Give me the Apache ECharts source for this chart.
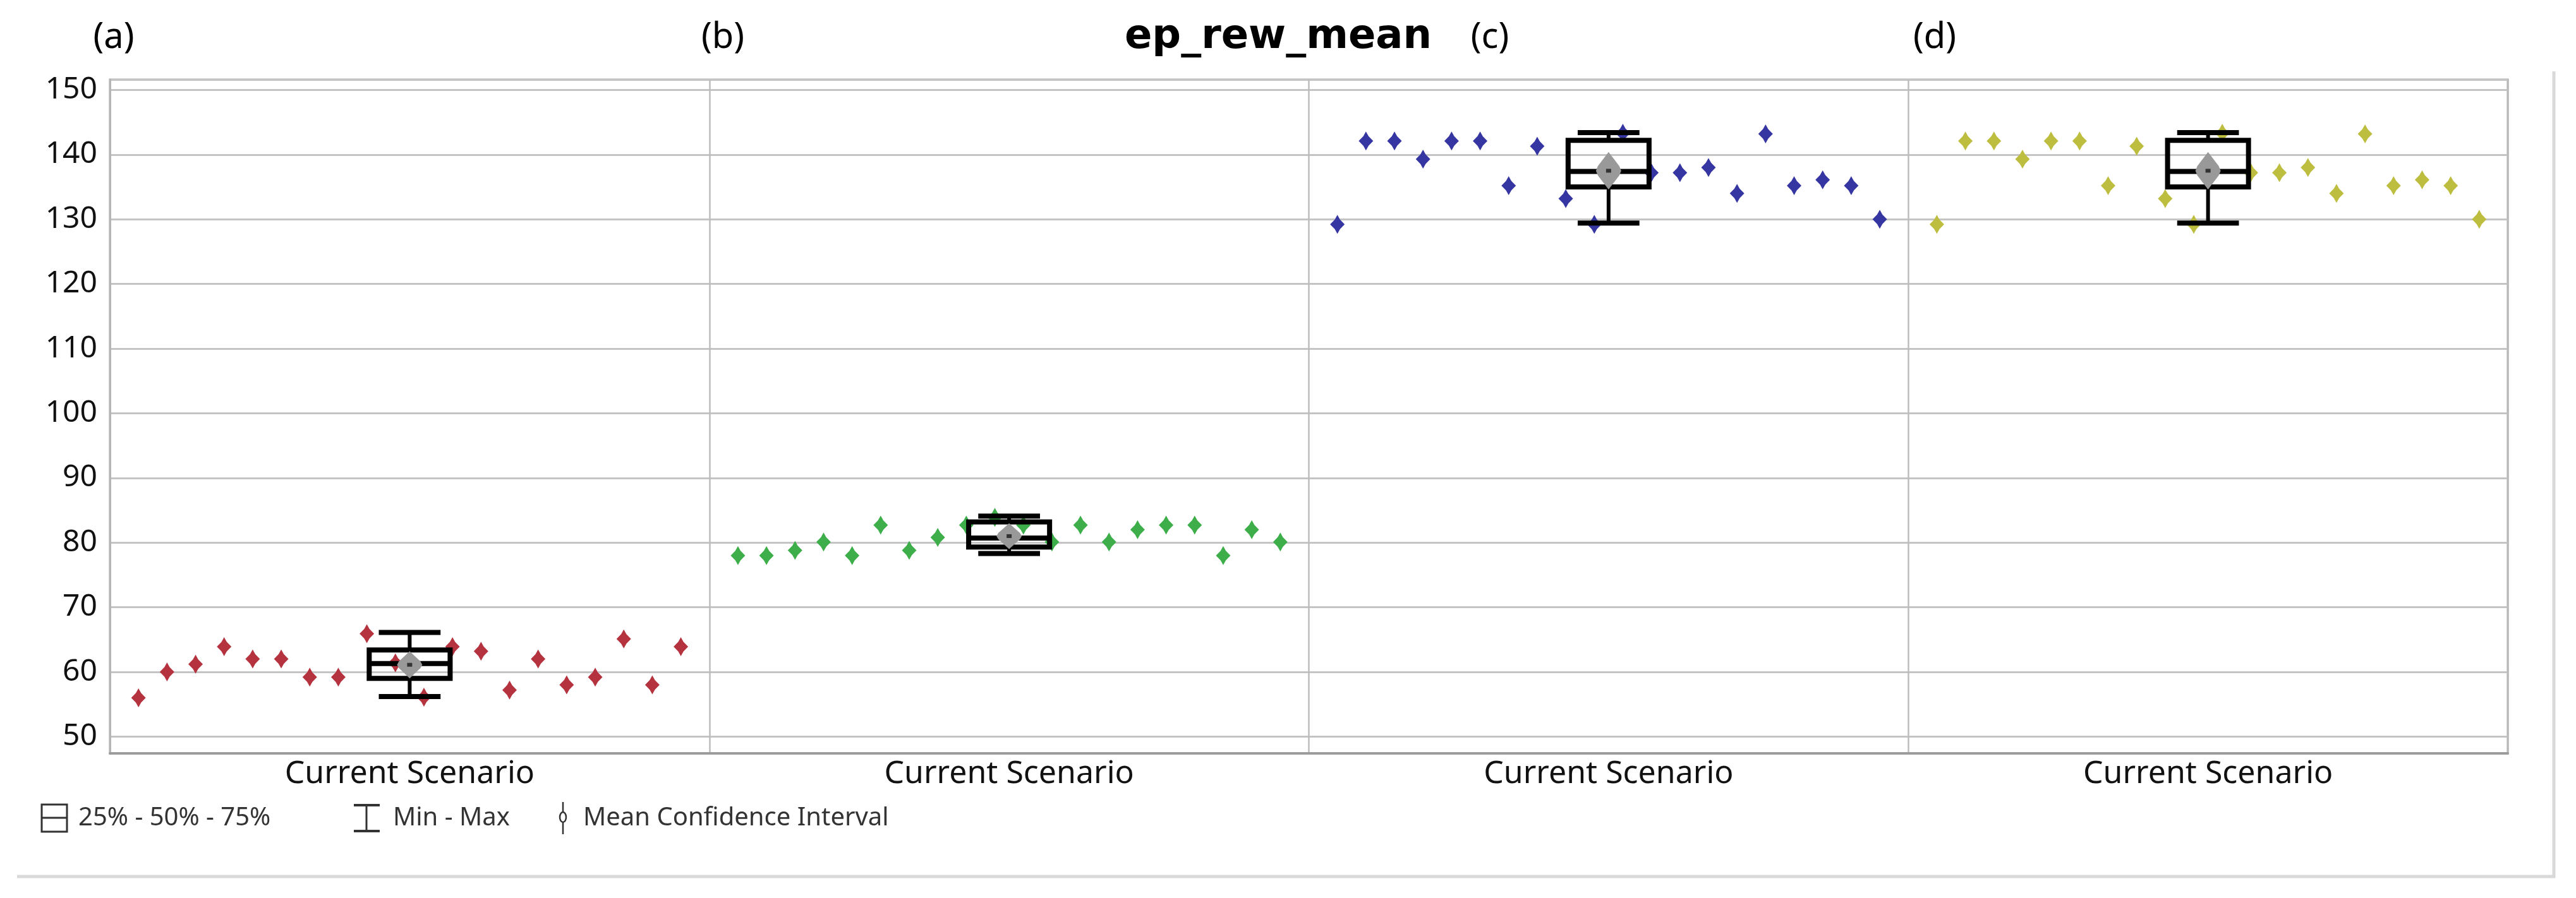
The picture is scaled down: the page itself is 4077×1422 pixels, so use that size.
<!DOCTYPE html>
<html>
<head>
<meta charset="utf-8">
<script src="https://cdn.jsdelivr.net/npm/echarts@6/dist/echarts.min.js"></script>
<style>
  html, body { margin: 0; padding: 0; background: #fff; }
  #chart { width: 4077px; height: 1422px; }
</style>
</head>
<body>
<div id="chart"></div>
<script>
'use strict';

// panels and labels
var panelTags = ['(a)', '(b)', '(c)', '(d)'];
var categories = ['Current Scenario', 'Current Scenario', 'Current Scenario', 'Current Scenario'];
var chartTitle = 'ep_rew_mean';
var legendNames = ['25% - 50% - 75%', 'Min - Max', 'Mean Confidence Interval'];

// one value per run
var runsA = [56.0, 60.0, 61.2, 63.9, 62.0, 62.0, 59.2, 59.2, 65.9, 61.4, 56.1, 63.9, 63.2, 57.2, 62.0, 58.0, 59.2, 65.1, 58.0, 63.9];
var runsB = [78.0, 78.0, 78.8, 80.1, 78.0, 82.7, 78.8, 80.8, 82.7, 83.9, 82.7, 80.1, 82.7, 80.1, 82.0, 82.7, 82.7, 78.0, 82.0, 80.1];
var runsC = [129.2, 142.1, 142.1, 139.3, 142.1, 142.1, 135.2, 141.3, 133.2, 129.2, 143.3, 137.2, 137.2, 138.0, 134.0, 143.2, 135.2, 136.1, 135.2, 130.0];
var runsD = [129.2, 142.1, 142.1, 139.3, 142.1, 142.1, 135.2, 141.3, 133.2, 129.2, 143.3, 137.2, 137.2, 138.0, 134.0, 143.2, 135.2, 136.1, 135.2, 130.0];

// min, q1, median, q3, max
var boxA = [56.2, 59.0, 61.3, 63.4, 66.1];
var boxB = [78.3, 79.3, 80.7, 83.2, 84.1];
var boxC = [129.4, 135.0, 137.4, 142.2, 143.4];
var boxD = [129.4, 135.0, 137.4, 142.2, 143.4];

// mean, half width of confidence interval
var meanA = [61.1, 2.1];
var meanB = [81.0, 2.0];
var meanC = [137.5, 2.9];
var meanD = [137.5, 2.9];

var colors = ['#b5323f', '#3dae49', '#3636a2', '#bdbd40'];

var runs = [runsA, runsB, runsC, runsD];
var boxes = [boxA, boxB, boxC, boxD];
var means = [meanA, meanB, meanC, meanD];

var myChart = echarts.init(document.getElementById('chart'));

var markerPath = 'path://M0,-14 L4,-7 L11,0 L4,7 L0,14 L-4,7 L-11,0 L-4,-7 Z';
var font = '"Noto Sans", "DejaVu Sans", sans-serif';

var scatterSeries = runs.map(function (vals, p) {
  return {
    type: 'scatter',
    xAxisIndex: 1,
    yAxisIndex: 0,
    symbol: markerPath,
    symbolSize: [23, 30],
    itemStyle: { color: colors[p], opacity: 1 },
    z: 2,
    silent: true,
    // spread the runs evenly across the panel
    data: vals.map(function (v, j) { return [p + (j + 1) / (vals.length + 1), v]; })
  };
});

var boxData = boxes.map(function (b, p) {
  return [p].concat(b).concat(means[p]);
});

function renderBox(params, api) {
  var i = api.value(0);
  var band = api.size([1, 0])[0];
  var bw = band * 0.135 / 2;
  var cw = band * 0.103 / 2;
  var dw = 20;
  var pt = function (v) { return api.coord([i, v]); };
  var lo = pt(api.value(1)), q1 = pt(api.value(2)), md = pt(api.value(3));
  var q3 = pt(api.value(4)), hi = pt(api.value(5));
  var cx = md[0];
  var mean = api.value(6), ci = api.value(7);
  var mt = pt(mean + ci)[1], mb = pt(mean - ci)[1], mc = pt(mean)[1];
  var h = (mb - mt) / 2;
  var line = { stroke: '#000', lineWidth: 8 };
  var shape = [[0, -1], [0.45, -0.6], [0.85, -0.25], [1, 0], [0.85, 0.25], [0.45, 0.6], [0, 1],
               [-0.45, 0.6], [-0.85, 0.25], [-1, 0], [-0.85, -0.25], [-0.45, -0.6]];
  return {
    type: 'group',
    children: [
      { type: 'line', shape: { x1: cx, y1: q3[1], x2: cx, y2: hi[1] }, style: { stroke: '#000', lineWidth: 6 } },
      { type: 'line', shape: { x1: cx, y1: q1[1], x2: cx, y2: lo[1] }, style: { stroke: '#000', lineWidth: 6 } },
      { type: 'line', shape: { x1: cx - cw, y1: hi[1], x2: cx + cw, y2: hi[1] }, style: line },
      { type: 'line', shape: { x1: cx - cw, y1: lo[1], x2: cx + cw, y2: lo[1] }, style: line },
      { type: 'rect', shape: { x: cx - bw, y: q3[1], width: bw * 2, height: q1[1] - q3[1] },
        style: { stroke: '#000', lineWidth: 8, fill: 'none' } },
      { type: 'line', shape: { x1: cx - bw, y1: md[1], x2: cx + bw, y2: md[1] }, style: line },
      { type: 'polygon',
        shape: { points: shape.map(function (s) { return [cx + s[0] * dw, mc + s[1] * h]; }) },
        style: { fill: '#999999' } },
      { type: 'rect', shape: { x: cx - 4, y: mc - 3, width: 8, height: 6 }, style: { fill: '#333' } }
    ]
  };
}

var option = {
  animation: false,
  backgroundColor: '#fff',
  grid: {
    left: 174, right: 108, top: 126, bottom: 229,
    show: true, borderColor: '#a3a3a3', borderWidth: 3,
    outerBoundsMode: 'none'
  },
  xAxis: [{
    type: 'category',
    data: panelTags,
    boundaryGap: true,
    axisTick: { show: false },
    axisLine: { show: true, lineStyle: { color: '#9c9c9c', width: 4 } },
    axisLabel: {
      interval: 0, margin: 8, fontSize: 50, color: '#111', fontFamily: font,
      formatter: function (v, idx) { return categories[idx]; }
    },
    splitLine: { show: true, interval: 0, lineStyle: { color: '#bdbdbd', width: 2.5 } }
  }, {
    type: 'value',
    min: 0, max: 4,
    show: false,
    splitLine: { show: false }
  }],
  yAxis: {
    type: 'value',
    min: 47.4, max: 151.6,
    splitNumber: 10,
    axisLine: { show: true, lineStyle: { color: '#b5b5b5', width: 3 } },
    axisTick: { show: false },
    axisLabel: {
      margin: 20, fontSize: 48, color: '#111', fontFamily: font,
      formatter: function (v) { return Math.abs(v % 10) < 1e-6 ? String(v) : ''; }
    },
    splitLine: { show: true, lineStyle: { color: '#c4c4c4', width: 3 } }
  },
  series: scatterSeries.concat([{
    type: 'custom',
    xAxisIndex: 0,
    yAxisIndex: 0,
    z: 5,
    silent: true,
    renderItem: renderBox,
    data: boxData
  }]),
  graphic: [
    // title and panel tags
    { type: 'text', x: 2023, y: 59, style: { text: chartTitle, font: 'bold 64px "DejaVu Sans", sans-serif', fill: '#000', textAlign: 'center', textVerticalAlign: 'middle' } },
    { type: 'text', x: 180, y: 60, style: { text: panelTags[0], font: '56px ' + font, fill: '#000', textAlign: 'center', textVerticalAlign: 'middle' } },
    { type: 'text', x: 1144, y: 60, style: { text: panelTags[1], font: '56px ' + font, fill: '#000', textAlign: 'center', textVerticalAlign: 'middle' } },
    { type: 'text', x: 2358, y: 60, style: { text: panelTags[2], font: '56px ' + font, fill: '#000', textAlign: 'center', textVerticalAlign: 'middle' } },
    { type: 'text', x: 3062, y: 60, style: { text: panelTags[3], font: '56px ' + font, fill: '#000', textAlign: 'center', textVerticalAlign: 'middle' } },
    // legend icons
    { type: 'rect', shape: { x: 66, y: 1274, width: 40, height: 43 }, style: { stroke: '#333', lineWidth: 3, fill: 'none' } },
    { type: 'line', shape: { x1: 66, y1: 1295, x2: 106, y2: 1295 }, style: { stroke: '#333', lineWidth: 3 } },
    { type: 'text', x: 124, y: 1296, style: { text: legendNames[0], font: '40px ' + font, fill: '#333', textVerticalAlign: 'middle' } },
    { type: 'line', shape: { x1: 560, y1: 1275, x2: 601, y2: 1275 }, style: { stroke: '#333', lineWidth: 4 } },
    { type: 'line', shape: { x1: 560, y1: 1316, x2: 601, y2: 1316 }, style: { stroke: '#333', lineWidth: 4 } },
    { type: 'line', shape: { x1: 580, y1: 1275, x2: 580, y2: 1316 }, style: { stroke: '#333', lineWidth: 3 } },
    { type: 'text', x: 622, y: 1296, style: { text: legendNames[1], font: '40px ' + font, fill: '#333', textVerticalAlign: 'middle' } },
    { type: 'line', shape: { x1: 891, y1: 1270, x2: 891, y2: 1321 }, style: { stroke: '#333', lineWidth: 2.5 } },
    { type: 'ellipse', shape: { cx: 891, cy: 1294, rx: 5, ry: 8 }, style: { stroke: '#333', lineWidth: 2.5, fill: '#fff' } },
    { type: 'text', x: 923, y: 1296, style: { text: legendNames[2], font: '40px ' + font, fill: '#333', textVerticalAlign: 'middle' } },
    // outer frame
    { type: 'line', shape: { x1: 27, y1: 1388, x2: 4044, y2: 1388 }, style: { stroke: '#d9d9d9', lineWidth: 5 } },
    { type: 'line', shape: { x1: 4042, y1: 113, x2: 4042, y2: 1390 }, style: { stroke: '#d9d9d9', lineWidth: 5 } }
  ]
};

myChart.setOption(option);

window.addEventListener('resize', function () {
  myChart.resize();
});
</script>
</body>
</html>
